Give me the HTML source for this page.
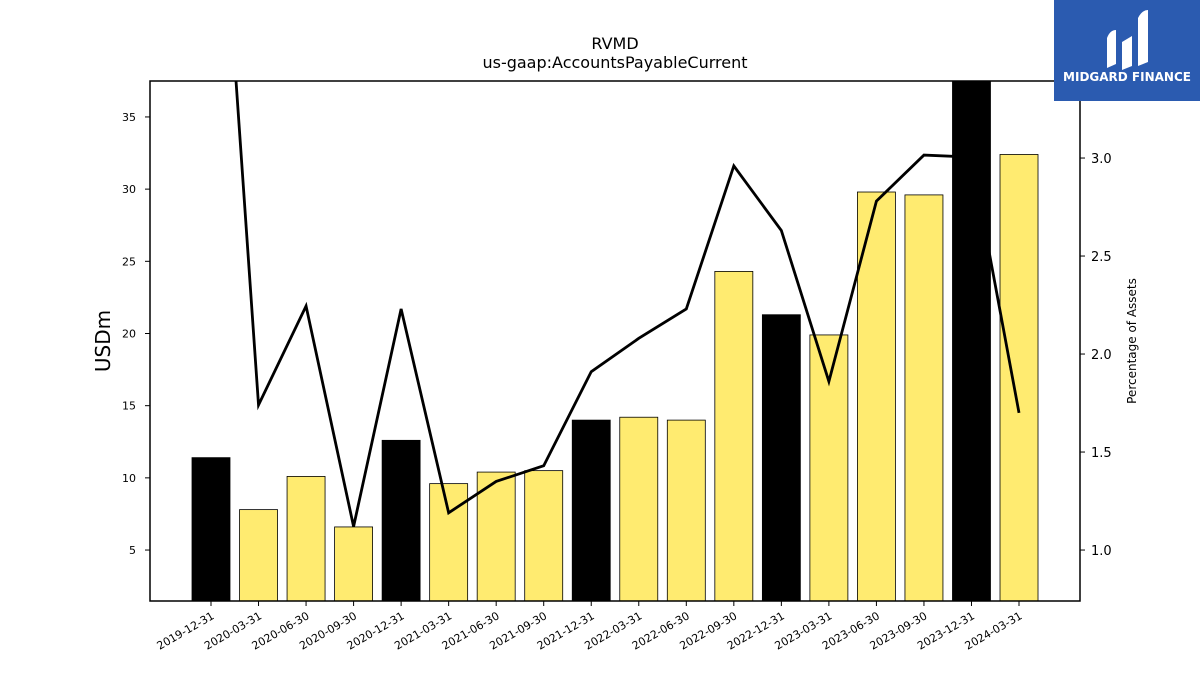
<!DOCTYPE html>
<html><head><meta charset="utf-8"><style>
body{margin:0;background:#fff;width:1200px;height:675px;overflow:hidden;font-family:"Liberation Sans","DejaVu Sans",sans-serif}
svg text{font-family:"DejaVu Sans","Liberation Sans",sans-serif}
</style></head><body>
<svg id="chart" width="1200" height="675" xmlns="http://www.w3.org/2000/svg">
<text x="615" y="49" text-anchor="middle" font-size="16">RVMD</text>
<text x="615" y="68" text-anchor="middle" font-size="16">us-gaap:AccountsPayableCurrent</text>
<g id="bars"></g>
<g id="line"></g>
<g id="axes"></g>
<text transform="translate(110,341) rotate(-90)" text-anchor="middle" font-size="20">USDm</text>
<text transform="translate(1136,341) rotate(-90)" text-anchor="middle" font-size="12">Percentage of Assets</text>
<g>
<rect x="1054" y="0" width="146" height="101" fill="#2b5bb0"/>
<path d="M1107 68 L1107 38 Q1110 30 1116 30 L1116 64 Z M1122 70 L1122 42 L1132 36 L1132 66 Z M1138 66 L1138 18 Q1142 10 1148 10 L1148 62 Z" fill="#fff"/>
<text x="1127" y="81" text-anchor="middle" font-size="12" font-weight="bold" fill="#fff" font-family="Liberation Sans">MIDGARD FINANCE</text>
</g>
</svg>
<script>
const categories=["2019-12-31","2020-03-31","2020-06-30","2020-09-30","2020-12-31","2021-03-31","2021-06-30","2021-09-30","2021-12-31","2022-03-31","2022-06-30","2022-09-30","2022-12-31","2023-03-31","2023-06-30","2023-09-30","2023-12-31","2024-03-31"];
const barValues=[11.4,7.8,10.1,6.6,12.6,9.6,10.4,10.5,14.0,14.2,14.0,24.3,21.3,19.9,29.8,29.6,38.5,32.4];
const pctValues=[5.23,1.74,2.245,1.12,2.23,1.19,1.35,1.43,1.91,2.08,2.23,2.96,2.63,1.86,2.78,3.015,3.005,1.70];
const yTicks=[5,10,15,20,25,30,35];
const y2Ticks=[1.0,1.5,2.0,2.5,3.0];
const NS="http://www.w3.org/2000/svg";
const L=150,R=1080,T=81,B=601;
const yMin=1.47,yMax=37.49,y2Min=0.74,y2Max=3.393;
const y=v=>B-(v-yMin)/(yMax-yMin)*(B-T);
const y2=v=>B-(v-y2Min)/(y2Max-y2Min)*(B-T);
const x=i=>211+i*47.53;
function mk(tag,attrs,parent){const e=document.createElementNS(NS,tag);for(const k in attrs)e.setAttribute(k,attrs[k]);parent.appendChild(e);return e;}
const bars=document.getElementById('bars'),line=document.getElementById('line'),axes=document.getElementById('axes');
mk('clipPath',{id:'clip'},bars);
mk('rect',{x:L,y:T,width:R-L,height:B-T},document.getElementById('clip'));
bars.setAttribute('clip-path','url(#clip)');
line.setAttribute('clip-path','url(#clip)');
barValues.forEach((v,i)=>{
 const q4=categories[i].endsWith('12-31');
 const r=mk('rect',{x:x(i)-19,y:y(v),width:38,height:B-y(v),fill:q4?'#000':'#ffeb70',stroke:'#000','stroke-width':0.8},bars);
 
 
});
const p=mk('polyline',{points:pctValues.map((v,i)=>x(i)+','+y2(v)).join(' '),fill:'none',stroke:'#000','stroke-width':2.8},line);


mk('rect',{x:L,y:T,width:R-L,height:B-T,fill:'none',stroke:'#000','stroke-width':1.5},axes);
yTicks.forEach(t=>{
 mk('line',{x1:L-5,x2:L,y1:y(t),y2:y(t),stroke:'#000'},axes);
 const tx=mk('text',{x:L-14,y:y(t)+4,'text-anchor':'end','font-size':11},axes);tx.textContent=t;
 
 
});
y2Ticks.forEach(t=>{
 mk('line',{x1:R,x2:R+5,y1:y2(t),y2:y2(t),stroke:'#000'},axes);
 const tx=mk('text',{x:R+11,y:y2(t)+5,'font-size':13},axes);tx.textContent=t.toFixed(1);
 
 
});
categories.forEach((c,i)=>{
 mk('line',{x1:x(i),x2:x(i),y1:B,y2:B+5,stroke:'#000'},axes);
 const tx=mk('text',{x:x(i)+4,y:B+17,'text-anchor':'end','font-size':11,transform:'rotate(-30 '+(x(i)+4)+' '+(B+17)+')'},axes);tx.textContent=c;
 
 
});
</script>
</body></html>
